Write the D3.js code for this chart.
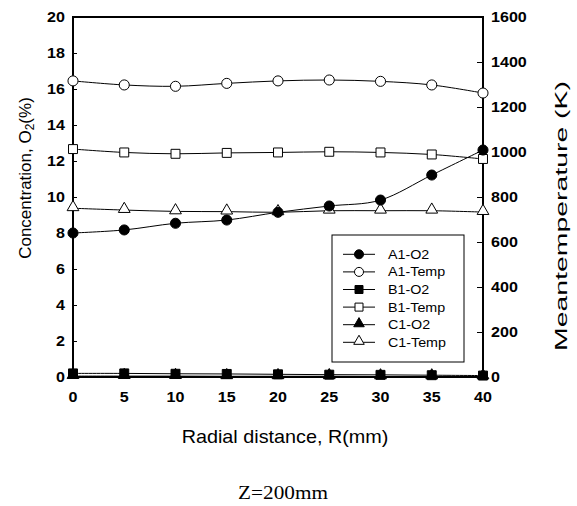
<!DOCTYPE html>
<html><head><meta charset="utf-8">
<script src="https://cdn.jsdelivr.net/npm/d3@7"></script>
<style>body{margin:0;background:#fff}svg{display:block}</style>
</head><body>
<svg id="c" width="577" height="506"></svg>
<script>
const radial = [0,5,10,15,20,25,30,35,40];
const a1O2   = [8.0,8.17,8.54,8.72,9.15,9.5,9.83,11.22,12.61];
const a1Temp = [1316,1298,1292,1305,1316,1320,1314,1298,1262];
const b1O2   = [0.2,0.2,0.18,0.17,0.15,0.13,0.12,0.1,0.08];
const b1Temp = [1013,998,992,996,998,1001,998,989,969];
const c1O2   = [0.05,0.05,0.05,0.04,0.04,0.04,0.03,0.03,0.03];
const c1Temp = [750,742,736,735,732,739,739,739,733];
const leftTicks = [0,2,4,6,8,10,12,14,16,18,20];
const rightTicks = [0,200,400,600,800,1000,1200,1400,1600];
const xTicks = [0,5,10,15,20,25,30,35,40];
const seriesNames = ["A1-O2","A1-Temp","B1-O2","B1-Temp","C1-O2","C1-Temp"];

const svg = d3.select("#c");
const L=73,R=483,T=17,B=377;
const x = d3.scaleLinear().domain([0,40]).range([L,R]);
const yL = d3.scaleLinear().domain([0,20]).range([B,T]);
const yR = d3.scaleLinear().domain([0,1600]).range([B,T]);
const SX = 1.15;
const font = "'Liberation Sans', Arial, sans-serif";

function txt(px,py,str,size,anchor,weight,family,sx){
  const g = svg.append("g").attr("transform",`translate(${px},${py}) scale(${sx==null?SX:sx},1)`);
  return g.append("text").attr("text-anchor",anchor).attr("font-size",size)
    .attr("font-weight",weight||"normal").attr("font-family",family||font).attr("fill","#000").text(str);
}

// axes with inward ticks
const axL = d3.axisLeft(yL).tickValues(leftTicks).tickSizeInner(-4).tickSizeOuter(0).tickFormat("");
const axR = d3.axisRight(yR).tickValues(rightTicks).tickSizeInner(-6).tickSizeOuter(0).tickFormat("");
svg.append("g").attr("transform",`translate(${L},0)`).call(axL).call(g=>g.select(".domain").remove()).selectAll("line").attr("stroke","#000");
svg.append("g").attr("transform",`translate(${R},0)`).call(axR).call(g=>g.select(".domain").remove()).selectAll("line").attr("stroke","#000");

// frame
svg.append("rect").attr("x",L).attr("y",T).attr("width",R-L).attr("height",B-T)
  .attr("fill","none").attr("stroke","#000").attr("stroke-width",2);

// tick labels
leftTicks.forEach(v=>txt(65,yL(v)+5,String(v),14,"end","bold"));
rightTicks.forEach(v=>txt(491,yR(v)+5,String(v),14,"start","bold"));
xTicks.forEach(v=>txt(x(v),402,String(v),14,"middle","bold"));

// series
const curve = d3.curveCatmullRom.alpha(0);
function series(vals, scale, shape, filled){
  const pts = radial.map((r,i)=>[x(r), scale(vals[i])]);
  svg.append("path").attr("d", d3.line().curve(curve)(pts)).attr("fill","none").attr("stroke","#000").attr("stroke-width",1);
  pts.forEach(p=>marker(p[0],p[1],shape,filled,1));
}
function marker(cx,cy,shape,filled,s){
  const fill = filled?"#000":"#fff";
  const sym = {circle:d3.symbolCircle, square:d3.symbolSquare, triangle:d3.symbolTriangle}[shape];
  const size = {circle:80, square:80, triangle:60}[shape]*s;
  svg.append("path").attr("d", d3.symbol().type(sym).size(size)())
    .attr("transform",`translate(${cx},${cy + (shape==="triangle"?-1:0)})`)
    .attr("fill",fill).attr("stroke","#000").attr("stroke-width",1);
}
series(c1O2, yL, "triangle", true);
series(b1O2, yL, "square", true);
series(c1Temp, yR, "triangle", false);
series(b1Temp, yR, "square", false);
series(a1Temp, yR, "circle", false);
series(a1O2, yL, "circle", true);

// legend
svg.append("rect").attr("x",332).attr("y",235).attr("width",132).attr("height",127)
  .attr("fill","#fff").attr("stroke","#000").attr("stroke-width",1);
const shapes = [["circle",true],["circle",false],["square",true],["square",false],["triangle",true],["triangle",false]];
seriesNames.forEach((n,i)=>{
  const yy = 254.3 + i*17.6;
  svg.append("line").attr("x1",343).attr("x2",375).attr("y1",yy).attr("y2",yy).attr("stroke","#000");
  marker(359,yy,shapes[i][0],shapes[i][1],0.8);
  txt(388,yy+4.5,n,13,"start","normal",font,1.1);
});

// axis titles
const lt = svg.append("text").attr("transform",`translate(31,178) rotate(-90)`)
  .attr("text-anchor","middle").attr("font-size",17).attr("font-family",font);
lt.append("tspan").text("Concentration, O");
lt.append("tspan").attr("font-size",12).attr("dy",3).text("2");
lt.append("tspan").attr("dy",-3).text("(%)");

svg.append("text").attr("transform",`translate(567,216) rotate(-90)`)
  .attr("text-anchor","middle").attr("font-size",17).attr("font-family",font)
  .attr("textLength",270).attr("lengthAdjust","spacingAndGlyphs").text("Meantemperature (K)");

txt(285,443,"Radial distance, R(mm)",18,"middle","normal",font,1.1);
txt(283,499,"Z=200mm",18,"middle","normal","'Liberation Serif','Times New Roman',serif",1.18);
</script>
</body></html>
